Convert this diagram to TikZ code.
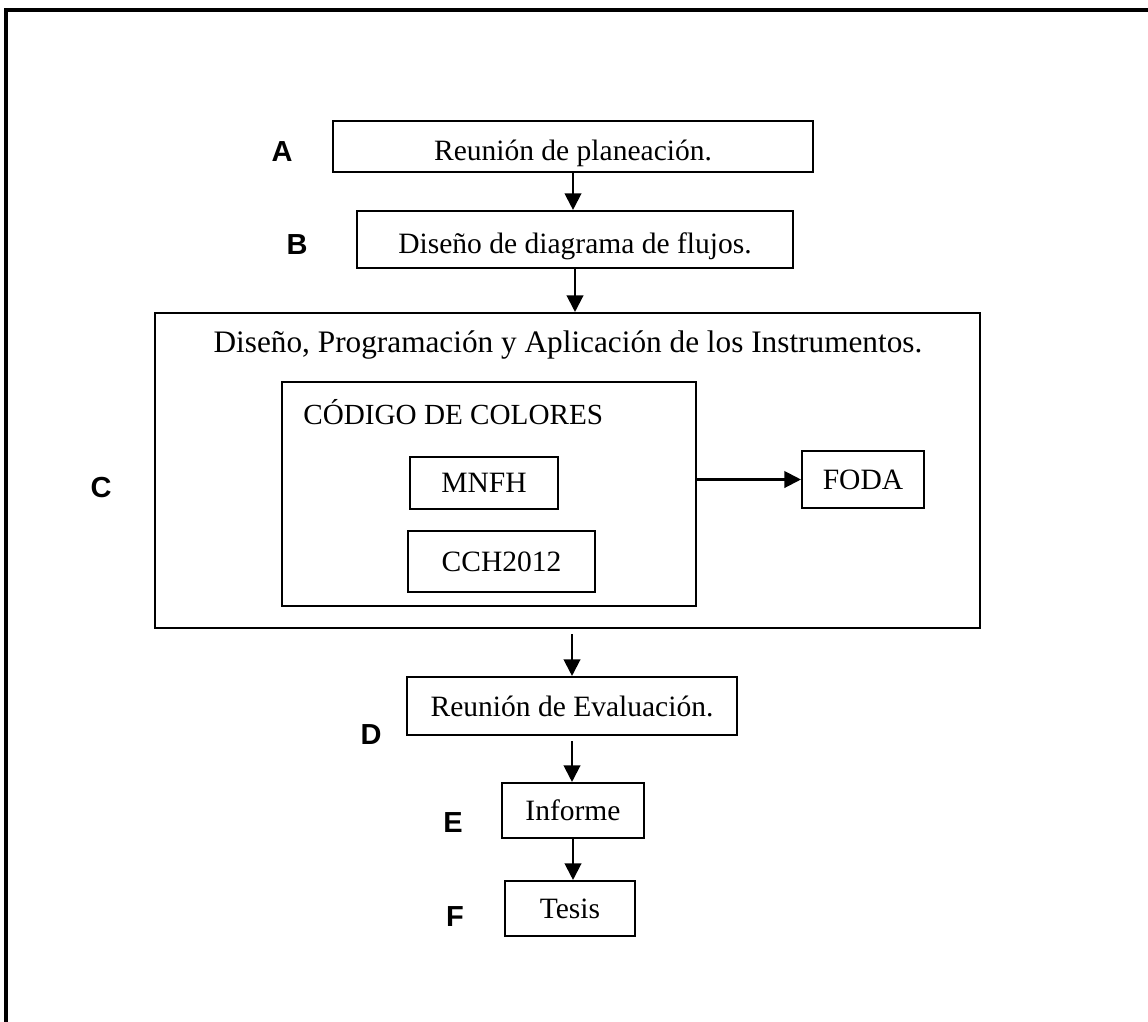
\documentclass[tikz,border=0pt]{standalone}
\usepackage{fontspec}
\setmainfont{Liberation Serif}
\newfontfamily\tagfont{Liberation Sans}
\usetikzlibrary{arrows.meta,positioning}

\newcommand{\lowertext}[1]{\raisebox{-4pt}[\height][\depth]{#1}}

\begin{document}
\begin{tikzpicture}[x=0.02cm, y=-0.02cm,
  box/.style={draw, line width=1.2pt, inner sep=0pt, font=\fontsize{16.8}{20}\selectfont},
  tag/.style={inner sep=0pt, font={\tagfont\bfseries\fontsize{16.5}{19}\selectfont}},
  flow/.style={line width=1.2pt, -{Triangle[length=9.5pt, width=9.5pt]}}]
\useasboundingbox (0,0) rectangle (1148,1021);

% outer frame, cut by the page
\draw[line width=1.8pt] (1160,10) -- (6,10) -- (6,1040);

% steps
\node[box, minimum width=9.6cm,  minimum height=1.02cm] (A) at (573,146.5) {\lowertext{Reunión de planeación.}};
\node[box, minimum width=8.72cm, minimum height=1.14cm] (B) at (575,239.5) {\lowertext{Diseño de diagrama de flujos.}};
\node[box, minimum width=16.5cm, minimum height=6.3cm]  (C) at (567.5,470.5) {};
\node[font=\fontsize{17.8}{21}\selectfont, inner sep=0pt] (Ctitle) at (568,345)
  {Diseño, Programación y Aplicación de los Instrumentos.};
\node[box, minimum width=6.6cm,  minimum height=1.16cm] (D) at (572,706) {Reunión de Evaluación.};
\node[box, minimum width=2.84cm, minimum height=1.1cm]  (E) at (573,810.5) {Informe};
\node[box, minimum width=2.6cm,  minimum height=1.1cm]  (F) at (570,908.5) {Tesis};

% inside C
\node[box, minimum width=8.28cm, minimum height=4.48cm] (code) at (489,494) {};
\node[anchor=west, inner sep=0pt, font=\fontsize{16.6}{20}\selectfont] (codetitle) at (303,412) {CÓDIGO DE COLORES};
\node[box, minimum width=2.96cm, minimum height=1.04cm] (mnfh) at (484,483) {MNFH};
\node[box, minimum width=3.74cm, minimum height=1.22cm] (cch) at (501.5,561.5) {CCH2012};
\node[box, minimum width=2.44cm, minimum height=1.14cm] (foda) at (863,479.5) {FODA};

% letters
\node[tag] (tA) at (282,152) {A};
\node[tag] (tB) at (297,245) {B};
\node[tag] (tC) at (101,488) {C};
\node[tag] (tD) at (371,735) {D};
\node[tag] (tE) at (453,823) {E};
\node[tag] (tF) at (455,917) {F};

% arrows
\draw[flow] (A.south) -- (A.south |- B.north);
\draw[flow] (B.south) -- (B.south |- C.north);
\draw[flow, shorten <=3pt] (D.north |- C.south) -- (D.north);
\draw[flow, shorten <=3pt] (D.south) -- (D.south |- E.north);
\draw[flow] (E.south) -- (E.south |- F.north);
\draw[flow] (code.east |- foda.west) -- (foda.west);

\end{tikzpicture}
\end{document}
